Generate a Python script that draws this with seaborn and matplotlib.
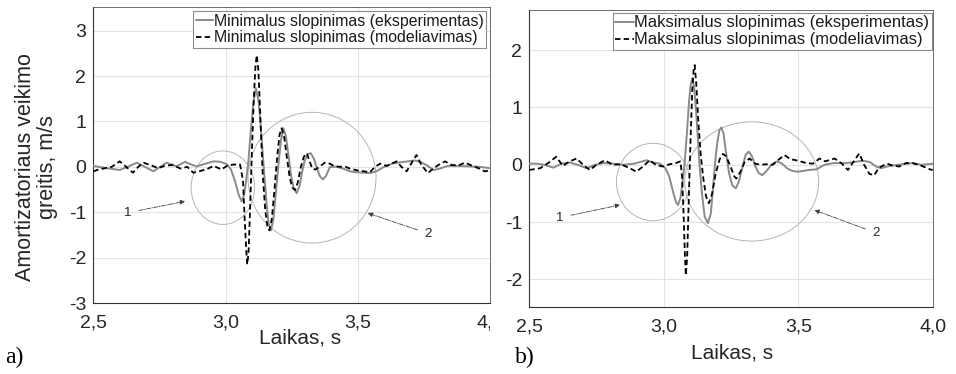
import matplotlib
matplotlib.use("Agg")
import matplotlib.pyplot as plt
import seaborn as sns
from matplotlib.patches import Ellipse
from matplotlib.transforms import Bbox, TransformedBbox

# ---- data -------------------------------------------------------------
# Panel a: minimal damping
t_min_exp = [2.50, 2.55, 2.60, 2.63, 2.665, 2.695, 2.727, 2.75, 2.777, 2.80, 2.815, 2.847,
             2.87, 2.891, 2.92, 2.954, 2.98, 3.004, 3.02, 3.035, 3.05, 3.061, 3.07, 3.078,
             3.086, 3.095, 3.105, 3.115, 3.125, 3.135, 3.145, 3.155, 3.163, 3.172, 3.181,
             3.19, 3.20, 3.21, 3.219, 3.228, 3.238, 3.248, 3.258, 3.269, 3.28, 3.29, 3.30,
             3.312, 3.322, 3.334, 3.345, 3.356, 3.368, 3.38, 3.395, 3.42, 3.445, 3.47, 3.50,
             3.546, 3.57, 3.60, 3.63, 3.66, 3.69, 3.715, 3.74, 3.765, 3.786, 3.81, 3.84,
             3.88, 3.92, 3.96, 4.00]
v_min_exp = [0.02, -0.03, -0.07, 0.00, 0.09, 0.00, -0.10, -0.01, 0.09, 0.04, 0.01, 0.11,
             0.05, 0.01, 0.06, 0.12, 0.11, 0.06, -0.05, -0.30, -0.62, -0.76, -0.62, -0.30,
             0.10, 0.75, 1.40, 1.73, 1.45, 0.75, -0.05, -0.80, -1.25, -1.40, -1.15,
             -0.60, 0.05, 0.60, 0.85, 0.68, 0.25, -0.20, -0.48, -0.58, -0.42, -0.10, 0.15,
             0.28, 0.30, 0.18, -0.02, -0.20, -0.28, -0.20, 0.00, 0.00, -0.04, -0.10, -0.12,
             -0.14, -0.10, 0.00, 0.07, 0.10, 0.12, 0.14, 0.10, 0.02, -0.07, -0.04, 0.02,
             0.02, 0.01, 0.00, -0.03]

t_min_mod = [2.50, 2.52, 2.545, 2.57, 2.60, 2.62, 2.65, 2.67, 2.69, 2.72, 2.745, 2.77,
             2.80, 2.83, 2.855, 2.878, 2.90, 2.93, 2.955, 2.985, 3.005, 3.03, 3.055, 3.066,
             3.072, 3.078, 3.082, 3.087, 3.093, 3.10, 3.107, 3.113, 3.118, 3.124, 3.131,
             3.14, 3.15, 3.158, 3.166, 3.175, 3.185, 3.195, 3.204, 3.212, 3.222, 3.232,
             3.243, 3.253, 3.263, 3.273, 3.285, 3.296, 3.307, 3.318, 3.328, 3.34, 3.355,
             3.375, 3.39, 3.41, 3.43, 3.45, 3.47, 3.50, 3.546, 3.565, 3.585, 3.61, 3.647,
             3.665, 3.685, 3.705, 3.722, 3.74, 3.765, 3.785, 3.805, 3.83, 3.855, 3.88,
             3.905, 3.93, 3.96, 3.98, 4.00]
v_min_mod = [-0.10, -0.06, -0.03, 0.00, 0.12, 0.02, -0.13, 0.00, 0.09, 0.03, -0.03, 0.02,
             0.04, -0.04, 0.00, -0.13, -0.10, -0.05, 0.02, -0.06, 0.02, 0.05, 0.05, -0.30,
             -1.10, -1.80, -2.15, -1.90, -0.90, 0.40, 1.50, 2.20, 2.46, 2.15, 1.20,
             -0.10, -0.95, -1.30, -1.40, -1.15, -0.50, 0.20, 0.70, 0.85, 0.65, 0.20,
             -0.25, -0.46, -0.51, -0.35, 0.00, 0.22, 0.30, 0.12, -0.04, -0.06, 0.00,
             0.09, 0.08, 0.02, 0.00, 0.01, -0.04, -0.08, -0.12, 0.00, 0.07, 0.02, 0.12,
             0.00, -0.10, 0.10, 0.26, 0.05, -0.14, -0.04, 0.04, 0.12, 0.04, 0.03,
             0.09, 0.03, -0.04, -0.10, -0.08]

# Panel b: maximal damping
t_max_exp = [2.50, 2.53, 2.555, 2.589, 2.62, 2.65, 2.68, 2.713, 2.745, 2.775, 2.81, 2.85,
             2.89, 2.936, 2.96, 2.985, 3.005, 3.02, 3.035, 3.046, 3.053, 3.062, 3.07, 3.078,
             3.086, 3.094, 3.10, 3.106, 3.113, 3.12, 3.127, 3.133, 3.142, 3.152, 3.164,
             3.175, 3.185, 3.192, 3.20, 3.207, 3.214, 3.222, 3.232, 3.243, 3.255, 3.268,
             3.28, 3.292, 3.304, 3.316, 3.328, 3.34, 3.352, 3.366, 3.38, 3.40, 3.42, 3.44,
             3.461, 3.48, 3.50, 3.54, 3.567, 3.598, 3.63, 3.68, 3.74, 3.765, 3.79, 3.808,
             3.83, 3.87, 3.925, 3.96, 4.00]
v_max_exp = [0.02, 0.02, 0.00, -0.05, 0.02, 0.04, 0.00, -0.06, 0.00, 0.03, 0.02, 0.00,
             0.02, 0.08, 0.04, 0.02, -0.05, -0.20, -0.48, -0.66, -0.70, -0.58, -0.30, 0.05,
             0.55, 1.10, 1.40, 1.51, 1.35, 0.95, 0.45, 0.00, -0.50, -0.90, -1.02,
             -0.85, -0.30, 0.10, 0.42, 0.60, 0.65, 0.55, 0.20, -0.15, -0.36, -0.41,
             -0.28, -0.05, 0.17, 0.23, 0.15, -0.02, -0.14, -0.18, -0.12, 0.00, 0.06, 0.02,
             -0.07, -0.11, -0.12, -0.09, -0.08, 0.00, 0.03, 0.03, 0.07, 0.05, -0.03, -0.06,
             -0.03, 0.00, 0.03, 0.00, 0.02]

t_max_mod = [2.50, 2.54, 2.57, 2.60, 2.625, 2.65, 2.676, 2.70, 2.725, 2.75, 2.781, 2.81,
             2.84, 2.874, 2.898, 2.92, 2.948, 2.97, 2.997, 3.022, 3.045, 3.062, 3.068,
             3.074, 3.078, 3.082, 3.087, 3.093, 3.10, 3.106, 3.111, 3.115, 3.121, 3.128,
             3.137, 3.146, 3.157, 3.168, 3.18, 3.193, 3.208, 3.22, 3.232, 3.25, 3.262,
             3.27, 3.285, 3.30, 3.319, 3.34, 3.36, 3.38, 3.405, 3.43, 3.449, 3.47, 3.50,
             3.53, 3.555, 3.579, 3.60, 3.635, 3.66, 3.685, 3.705, 3.727, 3.745, 3.765,
             3.783, 3.80, 3.83, 3.85, 3.876, 3.90, 3.925, 3.96, 3.99, 4.00]
v_max_mod = [-0.09, -0.06, 0.03, 0.14, -0.02, 0.06, 0.11, 0.00, -0.09, 0.00, 0.08, 0.00,
             0.01, -0.06, -0.12, -0.04, 0.08, 0.00, -0.03, 0.01, 0.03, 0.06, -0.20,
             -0.90, -1.50, -1.93, -1.60, -0.60, 0.50, 1.30, 1.65, 1.74, 1.40, 0.80,
             0.20, -0.20, -0.55, -0.67, -0.50, -0.15, 0.10, 0.19, 0.15, -0.05, -0.20,
             -0.24, -0.12, 0.04, 0.11, 0.02, 0.00, 0.01, 0.00, 0.10, 0.17, 0.10, 0.07,
             0.03, 0.02, 0.11, 0.06, 0.11, 0.03, -0.09, 0.05, 0.20, 0.00, -0.16,
             -0.18, -0.05, 0.02, -0.01, -0.03, 0.03, 0.03, -0.02, -0.08, -0.09]

x_ticks = [2.5, 3.0, 3.5, 4.0]
x_tick_labels = ["2,5", "3,0", "3,5", "4,0"]
y_ticks_a = [-3, -2, -1, 0, 1, 2, 3]
y_ticks_b = [-2, -1, 0, 1, 2]

labels_a = ["Minimalus slopinimas (eksperimentas)", "Minimalus slopinimas (modeliavimas)"]
labels_b = ["Maksimalus slopinimas (eksperimentas)", "Maksimalus slopinimas (modeliavimas)"]
x_label = "Laikas, s"
y_label = "Amortizatoriaus veikimo\ngreitis, m/s"

# ---- style ------------------------------------------------------------
sns.set_style("white")
plt.rcParams["font.family"] = ["Liberation Sans", "DejaVu Sans"]

GRAY = "#8a8a8a"
DASH = (0, (3.0, 1.8))

fig = plt.figure(figsize=(9.56, 3.74), dpi=100)
W, H = 956, 374


def px_axes(l, t, r, b):
    return fig.add_axes([l / W, 1 - b / H, (r - l) / W, (b - t) / H])


ax_a = px_axes(93.3, 7, 490, 303)
ax_b = px_axes(529.3, 10, 932.7, 307)


def draw_panel(ax, t_exp, v_exp, t_mod, v_mod, labels, yticks, ylim, legend_fs,
               legend_anchor):
    sns.lineplot(x=t_exp, y=v_exp, ax=ax, color=GRAY, lw=1.4, sort=False,
                 estimator=None, errorbar=None, label=labels[0], zorder=3)
    sns.lineplot(x=t_mod, y=v_mod, ax=ax, color="black", lw=1.3, sort=False,
                 estimator=None, errorbar=None, label=labels[1], linestyle=DASH,
                 zorder=4)
    ax.set_xlim(2.5, 4.0)
    ax.set_ylim(*ylim)
    ax.set_xticks(x_ticks)
    ax.set_xticklabels(x_tick_labels)
    ax.set_yticks(yticks)
    ax.set_yticklabels([str(v) for v in yticks])
    ax.grid(True, color="#e3e3e3", lw=0.8)
    ax.tick_params(axis="both", direction="in", length=3, width=0.6,
                   color="#555555", labelsize=14, labelcolor="#262626")
    ax.tick_params(axis="x", pad=8)
    ax.tick_params(axis="y", pad=5)
    for side in ["left", "bottom"]:
        ax.spines[side].set_color("#333333")
        ax.spines[side].set_linewidth(0.8)
    for side in ["top", "right"]:
        ax.spines[side].set_color("#555555")
        ax.spines[side].set_linewidth(0.6)
    ax.set_xlabel(x_label, fontsize=15, color="#262626")
    ax.set_ylabel("")
    leg = ax.legend(loc="upper right", bbox_to_anchor=legend_anchor,
                    borderaxespad=0, fontsize=legend_fs, frameon=True,
                    fancybox=False, framealpha=1, edgecolor="#8c8c8c",
                    handlelength=1.1, handletextpad=0.05, borderpad=0.15,
                    labelspacing=0.12)
    leg.get_frame().set_linewidth(0.8)
    for txt in leg.get_texts():
        txt.set_color("#1a1a1a")


draw_panel(ax_a, t_min_exp, v_min_exp, t_min_mod, v_min_mod, labels_a,
           y_ticks_a, (-3, 3.52), 11.4, (0.99, 0.986))
draw_panel(ax_b, t_max_exp, v_max_exp, t_max_mod, v_max_mod, labels_b,
           y_ticks_b, (-2.48, 2.7), 11.9, (0.9975, 0.99))

ax_a.set_ylabel(y_label, fontsize=15.5, color="#262626", linespacing=1.05)
ax_a.yaxis.set_label_coords(-0.144, 0.46)
ax_a.yaxis.label.set_va("center")
ax_a.xaxis.set_label_coords(0.521, -0.118)
ax_a.xaxis.label.set_va("center")
ax_b.xaxis.set_label_coords(0.502, -0.155)
ax_b.xaxis.label.set_va("center")

# Highlighted regions and their callouts
ELL = dict(fill=False, edgecolor="#b5b5b5", lw=0.7, zorder=2)
ARR = dict(arrowstyle="-|>", color="#3a3a3a", lw=0.6, linestyle=(0, (5, 1.5, 1, 1.5)),
           shrinkA=3, shrinkB=0, mutation_scale=7)

ax_a.add_patch(Ellipse((2.99, -0.46), 2 * 0.12, 2 * 0.81, **ELL))
ax_a.add_patch(Ellipse((3.327, -0.24), 2 * 0.242, 2 * 1.44, **ELL))
ax_a.annotate("1", xy=(2.847, -0.76), xytext=(2.631, -1.01), fontsize=9.5,
              ha="center", va="center", arrowprops=ARR, color="#262626")
ax_a.annotate("2", xy=(3.538, -1.02), xytext=(3.766, -1.47), fontsize=9.5,
              ha="center", va="center", arrowprops=ARR, color="#262626")

ax_b.add_patch(Ellipse((2.96, -0.30), 2 * 0.136, 2 * 0.675, **ELL))
ax_b.add_patch(Ellipse((3.327, -0.29), 2 * 0.249, 2 * 1.04, **ELL))
ax_b.annotate("1", xy=(2.837, -0.70), xytext=(2.614, -0.92), fontsize=9.5,
              ha="center", va="center", arrowprops=ARR, color="#262626")
ax_b.annotate("2", xy=(3.56, -0.79), xytext=(3.79, -1.19), fontsize=9.5,
              ha="center", va="center", arrowprops=ARR, color="#262626")

# Panel a is cut at the border between the two panels
clip = TransformedBbox(Bbox.from_extents(0, 0, 490 / W, 1), fig.transFigure)
for lbl in ax_a.get_xticklabels():
    lbl.set_clip_box(clip)
    lbl.set_clip_on(True)

fig.text(5 / W, 1 - 357 / H, "a)", family="Liberation Serif", fontsize=17,
         ha="left", va="center", color="black")
fig.text(515 / W, 1 - 357 / H, "b)", family="Liberation Serif", fontsize=17,
         ha="left", va="center", color="black")

fig.savefig("out.png", dpi=100)
